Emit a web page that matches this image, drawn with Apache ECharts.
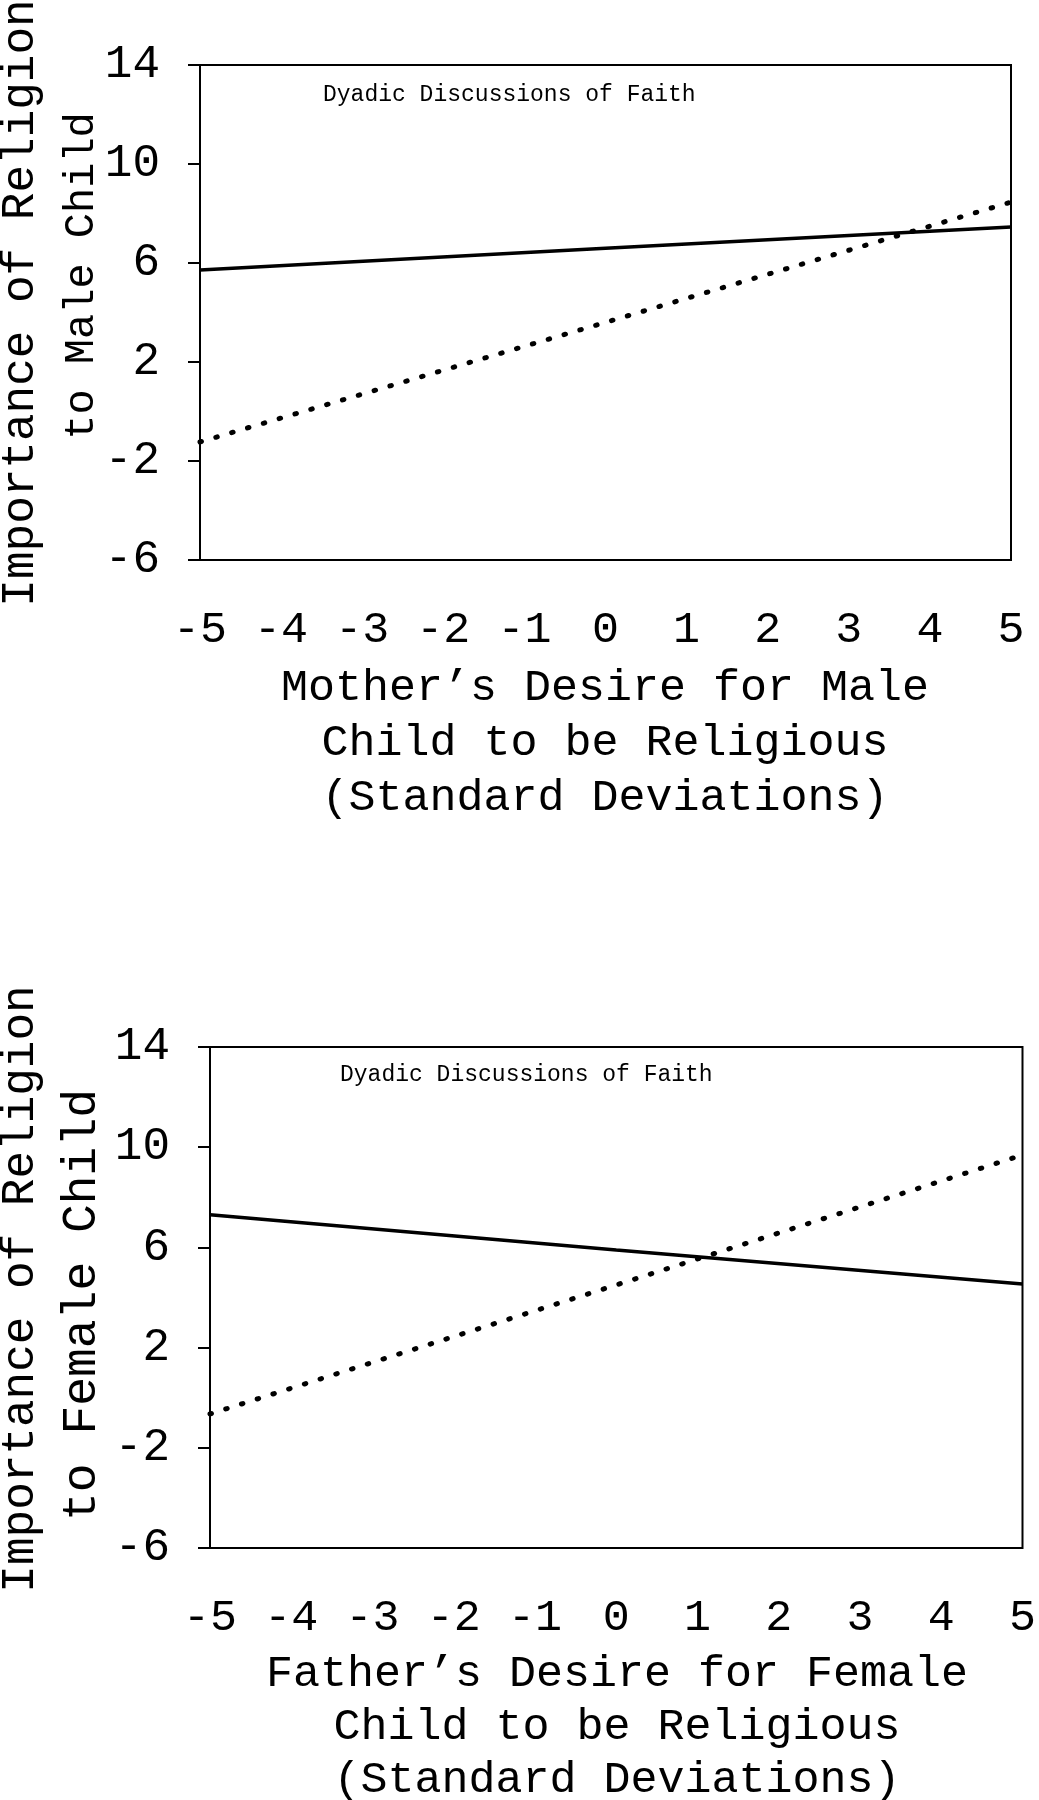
<!DOCTYPE html>
<html>
<head>
<meta charset="utf-8">
<script src="https://cdn.jsdelivr.net/npm/echarts@6/dist/echarts.min.js"></script>
<style>
  html, body { margin: 0; padding: 0; background: #fff; }
  #chart { width: 1039px; height: 1800px; }
</style>
</head>
<body>
<div id="chart"></div>
<script>
// x positions (standard deviations)
var xPoints = [-5, 0, 5];

// top panel: mother / male child
var maleSolid = [5.72, 6.6, 7.45];
var maleDotted = [-1.23, 3.6, 8.46];

// bottom panel: father / female child
var femaleSolid = [7.3, 5.9, 4.54];
var femaleDotted = [-0.65, 4.5, 9.69];

var yTicks = [-6, -2, 2, 6, 10, 14];
var xTicks = [-5, -4, -3, -2, -1, 0, 1, 2, 3, 4, 5];

var panelNote = 'Dyadic Discussions of Faith';
var maleYTitle = ['Importance of Religion', 'to Male Child'];
var femaleYTitle = ['Importance of Religion', 'to Female Child'];
var maleXTitle = ['Mother’s Desire for Male', 'Child to be Religious', '(Standard Deviations)'];
var femaleXTitle = ['Father’s Desire for Female', 'Child to be Religious', '(Standard Deviations)'];

var font = 'Liberation Mono, Courier New, monospace';

function pairs(xs, ys) {
  var out = [];
  for (var i = 0; i < xs.length; i++) out.push([xs[i], ys[i]]);
  return out;
}

function xAxisFor(idx) {
  return {
    type: 'value', gridIndex: idx,
    min: xTicks[0], max: xTicks[xTicks.length - 1], interval: 1,
    axisLine: { show: false, onZero: false },
    axisTick: { show: false },
    splitLine: { show: false },
    axisLabel: { color: '#000', fontFamily: font, fontSize: 45, lineHeight: 46, margin: 47 }
  };
}

function yAxisFor(idx) {
  return {
    type: 'value', gridIndex: idx,
    min: yTicks[0], max: yTicks[yTicks.length - 1], interval: 4,
    axisLine: { show: true, onZero: false, lineStyle: { color: '#000', width: 2 } },
    axisTick: { show: true, inside: false, length: 12, lineStyle: { color: '#000', width: 2 } },
    splitLine: { show: false },
    axisLabel: { color: '#000', fontFamily: font, fontSize: 46, margin: 40 }
  };
}

function solid(idx, data) {
  return {
    type: 'line', xAxisIndex: idx, yAxisIndex: idx,
    data: data, symbol: 'none', silent: true,
    lineStyle: { color: '#000', width: 3.5 }
  };
}

function dotted(idx, data) {
  return {
    type: 'line', xAxisIndex: idx, yAxisIndex: idx,
    data: data, symbol: 'none', silent: true,
    lineStyle: { color: '#000', width: 5, type: [1.5, 15], cap: 'round' }
  };
}

function txt(x, y, s, size, rot) {
  return {
    type: 'text', x: x, y: y, rotation: rot || 0,
    style: {
      text: s, fill: '#000', font: size + 'px ' + font,
      textAlign: 'center', textVerticalAlign: 'middle'
    }
  };
}

var graphics = [
  // notes inside the panels
  { type: 'text', x: 323, y: 95, style: { text: panelNote, fill: '#000', font: '23px ' + font, textVerticalAlign: 'middle' } },
  { type: 'text', x: 340, y: 1075, style: { text: panelNote, fill: '#000', font: '23px ' + font, textVerticalAlign: 'middle' } },
  // y titles
  txt(21, 303, maleYTitle[0], 46, Math.PI / 2),
  txt(82, 276, maleYTitle[1], 42, Math.PI / 2),
  txt(21, 1289, femaleYTitle[0], 46, Math.PI / 2),
  txt(82, 1305, femaleYTitle[1], 48, Math.PI / 2)
];
// x titles
for (var i = 0; i < 3; i++) {
  graphics.push(txt(605, 688 + i * 55, maleXTitle[i], 45));
  graphics.push(txt(617, 1674 + i * 53, femaleXTitle[i], 45));
}

var myChart = echarts.init(document.getElementById('chart'), null, { renderer: 'canvas' });
var option = {
  backgroundColor: '#fff',
  animation: false,
  grid: [
    { left: 200, top: 65, width: 811, height: 495, show: true, borderColor: '#000', borderWidth: 2, backgroundColor: 'transparent' },
    { left: 210, top: 1047, width: 814, height: 501, show: true, borderColor: '#000', borderWidth: 2, backgroundColor: 'transparent' }
  ],
  xAxis: [xAxisFor(0), xAxisFor(1)],
  yAxis: [yAxisFor(0), yAxisFor(1)],
  series: [
    solid(0, pairs(xPoints, maleSolid)),
    dotted(0, pairs(xPoints, maleDotted)),
    solid(1, pairs(xPoints, femaleSolid)),
    dotted(1, pairs(xPoints, femaleDotted))
  ],
  graphic: graphics
};
myChart.setOption(option);
</script>
</body>
</html>
